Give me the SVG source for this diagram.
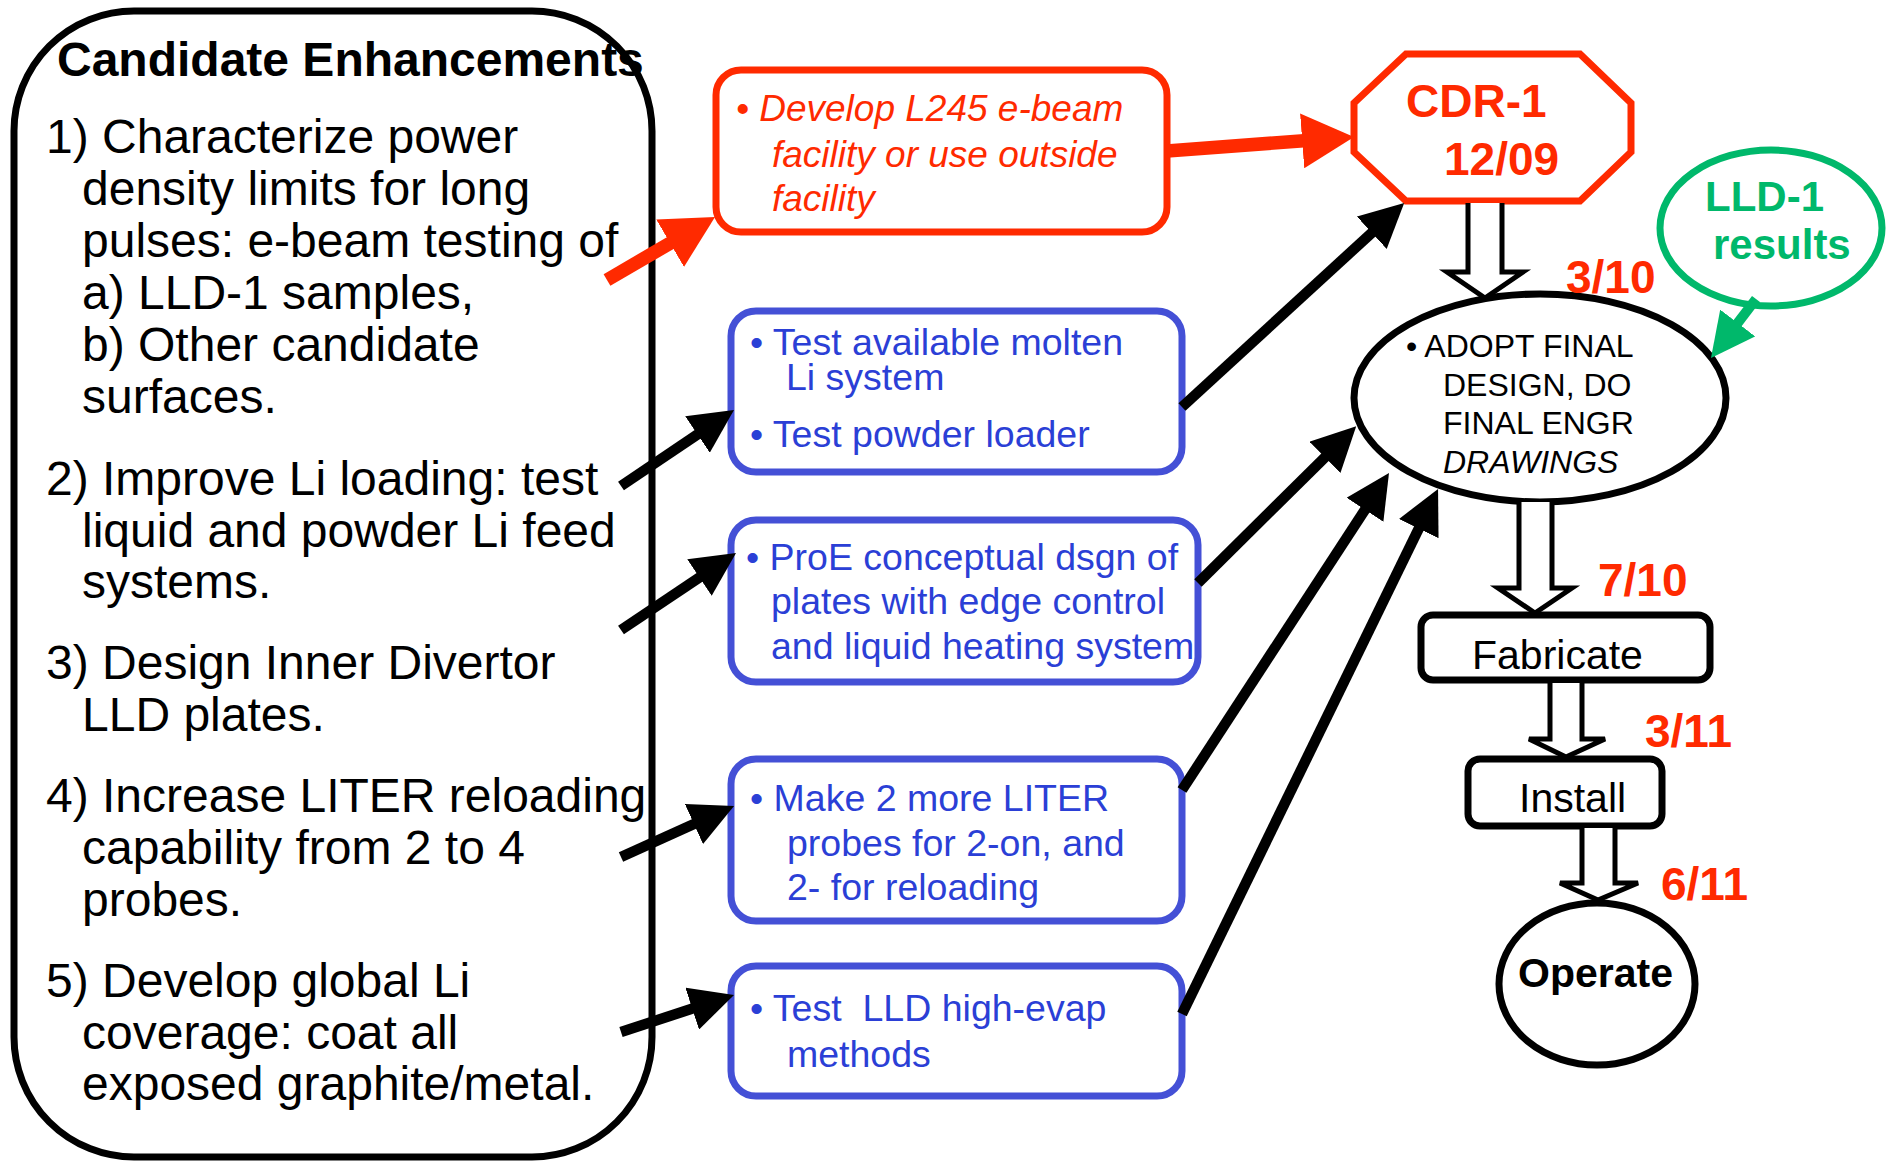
<svg xmlns="http://www.w3.org/2000/svg" width="1892" height="1162" viewBox="0 0 1892 1162">
<style>
text{font-family:"Liberation Sans",Arial,sans-serif}
.body{font-size:48px;fill:#000}
.title{font-size:48px;font-weight:bold;fill:#000}
.red{font-size:37px;font-style:italic;fill:#FF2A00}
.blue{font-size:37.5px;fill:#2B3FD6}
.blk{fill:#fff;stroke:#000;stroke-width:7}
.bbox{fill:#fff;stroke:#4450D6;stroke-width:7}
.rbox{fill:#fff;stroke:#FF2A00;stroke-width:7}
.date{font-size:46px;font-weight:bold;fill:#FF2A00}
.ell{font-size:32px;fill:#000}
.hol{fill:#fff;stroke:#000;stroke-width:5;stroke-linejoin:miter}
.ab{stroke:#000;stroke-width:10.5;fill:none}
.ar{stroke:#FF2A00;stroke-width:13.5;fill:none}
.ag{stroke:#00B86B;stroke-width:10;fill:none}
</style>
<defs>
<marker id="hb" markerUnits="userSpaceOnUse" viewBox="0 0 44 44" refX="14" refY="22" markerWidth="44" markerHeight="44" orient="auto"><path d="M0,0 L44,22 L0,44 z" fill="#000"/></marker>
<marker id="hr" markerUnits="userSpaceOnUse" viewBox="0 0 52 55" refX="22" refY="27.5" markerWidth="52" markerHeight="55" orient="auto"><path d="M0,0 L52,27.5 L0,55 z" fill="#FF2A00"/></marker>
<marker id="hg" markerUnits="userSpaceOnUse" viewBox="0 0 44 44" refX="14" refY="22" markerWidth="44" markerHeight="44" orient="auto"><path d="M0,0 L44,22 L0,44 z" fill="#00B86B"/></marker>
</defs>

<g id="candidates">
<rect x="14" y="11" width="638" height="1146" rx="120" ry="120" class="blk"/>
<text x="57" y="76" class="title">Candidate Enhancements</text>
<text class="body">
<tspan x="46" y="153">1) Characterize power</tspan>
<tspan x="82" y="205">density limits for long</tspan>
<tspan x="82" y="257">pulses: e-beam testing of</tspan>
<tspan x="82" y="309">a) LLD-1 samples,</tspan>
<tspan x="82" y="361">b) Other candidate</tspan>
<tspan x="82" y="413">surfaces.</tspan>
<tspan x="46" y="495">2) Improve Li loading: test</tspan>
<tspan x="82" y="547">liquid and powder Li feed</tspan>
<tspan x="82" y="598">systems.</tspan>
<tspan x="46" y="679">3) Design Inner Divertor</tspan>
<tspan x="82" y="731">LLD plates.</tspan>
<tspan x="46" y="812">4) Increase LITER reloading</tspan>
<tspan x="82" y="864">capability from 2 to 4</tspan>
<tspan x="82" y="916">probes.</tspan>
<tspan x="46" y="997">5) Develop global Li</tspan>
<tspan x="82" y="1049">coverage: coat all</tspan>
<tspan x="82" y="1100">exposed graphite/metal.</tspan>
</text>
</g>

<g id="ebeam">
<rect x="716" y="70" width="451" height="162" rx="25" class="rbox"/>
<text class="red">
<tspan x="736" y="121">• Develop L245 e-beam</tspan>
<tspan x="772" y="167">facility or use outside</tspan>
<tspan x="772" y="211">facility</tspan>
</text>
</g>

<g id="molten">
<rect x="731" y="311" width="451" height="161" rx="25" class="bbox"/>
<text class="blue">
<tspan x="750" y="355">• Test available molten</tspan>
<tspan x="786" y="390">Li system</tspan>
<tspan x="750" y="447">• Test powder loader</tspan>
</text>
</g>

<g id="proe">
<rect x="731" y="520" width="467" height="162" rx="25" class="bbox"/>
<text class="blue">
<tspan x="746" y="570">• ProE conceptual dsgn of</tspan>
<tspan x="771" y="614">plates with edge control</tspan>
<tspan x="771" y="659">and liquid heating system</tspan>
</text>
</g>

<g id="liter">
<rect x="731" y="759" width="451" height="162" rx="25" class="bbox"/>
<text class="blue">
<tspan x="750" y="811">• Make 2 more LITER</tspan>
<tspan x="787" y="856">probes for 2-on, and</tspan>
<tspan x="787" y="900">2- for reloading</tspan>
</text>
</g>

<g id="evap">
<rect x="731" y="966" width="451" height="130" rx="25" class="bbox"/>
<text class="blue" xml:space="preserve"><tspan x="750" y="1021">• Test  LLD high-evap</tspan><tspan x="787" y="1067">methods</tspan></text>
</g>

<g id="cdr">
<polygon points="1406,54 1580,54 1631,103 1631,152 1580,201 1406,201 1354,152 1354,103" class="rbox"/>
<text x="1406" y="117" class="date">CDR-1</text>
<text x="1444" y="175" class="date">12/09</text>
</g>

<g id="lld1">
<ellipse cx="1771" cy="228" rx="111" ry="78" fill="#fff" stroke="#00B86B" stroke-width="7"/>
<text x="1705" y="211" font-size="42" font-weight="bold" fill="#00B86B">LLD-1</text>
<text x="1713" y="259" font-size="42" font-weight="bold" fill="#00B86B">results</text>
</g>

<g id="adopt">
<ellipse cx="1540" cy="398" rx="186" ry="104" class="blk"/>
<text class="ell">
<tspan x="1406" y="357">• ADOPT FINAL</tspan>
<tspan x="1443" y="396">DESIGN, DO</tspan>
<tspan x="1443" y="434">FINAL ENGR</tspan>
<tspan x="1443" y="473" font-style="italic">DRAWINGS</tspan>
</text>
</g>

<g id="fabricate">
<rect x="1421" y="615" width="289" height="65" rx="12" class="blk"/>
<text x="1472" y="669" font-size="41">Fabricate</text>
</g>

<g id="install">
<rect x="1468" y="759" width="194" height="67" rx="12" class="blk"/>
<text x="1519" y="812" font-size="41">Install</text>
</g>

<g id="operate">
<ellipse cx="1597" cy="984" rx="98" ry="81" class="blk"/>
<text x="1518" y="987" font-size="41" font-weight="bold">Operate</text>
</g>

<g id="dates">
<text x="1566" y="293" class="date">3/10</text>
<text x="1598" y="596" class="date">7/10</text>
<text x="1645" y="747" class="date">3/11</text>
<text x="1661" y="900" class="date">6/11</text>
</g>

<g id="connectors">
<line x1="607" y1="280" x2="689.1" y2="232.1" class="ar" marker-end="url(#hr)"/>
<line x1="1167" y1="151" x2="1324.1" y2="139.2" class="ar" marker-end="url(#hr)"/>
<line x1="621" y1="486" x2="709.1" y2="426.7" class="ab" marker-end="url(#hb)"/>
<line x1="621" y1="630" x2="711.1" y2="569.7" class="ab" marker-end="url(#hb)"/>
<line x1="621" y1="857" x2="706.7" y2="818.3" class="ab" marker-end="url(#hb)"/>
<line x1="621" y1="1032" x2="705.5" y2="1004.3" class="ab" marker-end="url(#hb)"/>
<line x1="1182" y1="407" x2="1382.1" y2="223.3" class="ab" marker-end="url(#hb)"/>
<line x1="1198" y1="583" x2="1334.9" y2="447.4" class="ab" marker-end="url(#hb)"/>
<line x1="1182" y1="790" x2="1372.6" y2="498.1" class="ab" marker-end="url(#hb)"/>
<line x1="1182" y1="1014" x2="1424.9" y2="516" class="ab" marker-end="url(#hb)"/>
<line x1="1756" y1="299" x2="1729.2" y2="334.1" class="ag" marker-end="url(#hg)"/>
<polyline points="1468,203 1468,272 1447,272 1485,298 1523,272 1502,272 1502,203" class="hol"/>
<polyline points="1519,502 1519,588 1498,588 1535,613 1572,588 1552,588 1552,502" class="hol"/>
<polyline points="1550,683 1550,739 1529,739 1566,757 1605,739 1582,739 1582,683" class="hol"/>
<polyline points="1582,828 1582,883 1560,883 1598,900 1638,883 1615,883 1615,828" class="hol"/>
</g>
</svg>
